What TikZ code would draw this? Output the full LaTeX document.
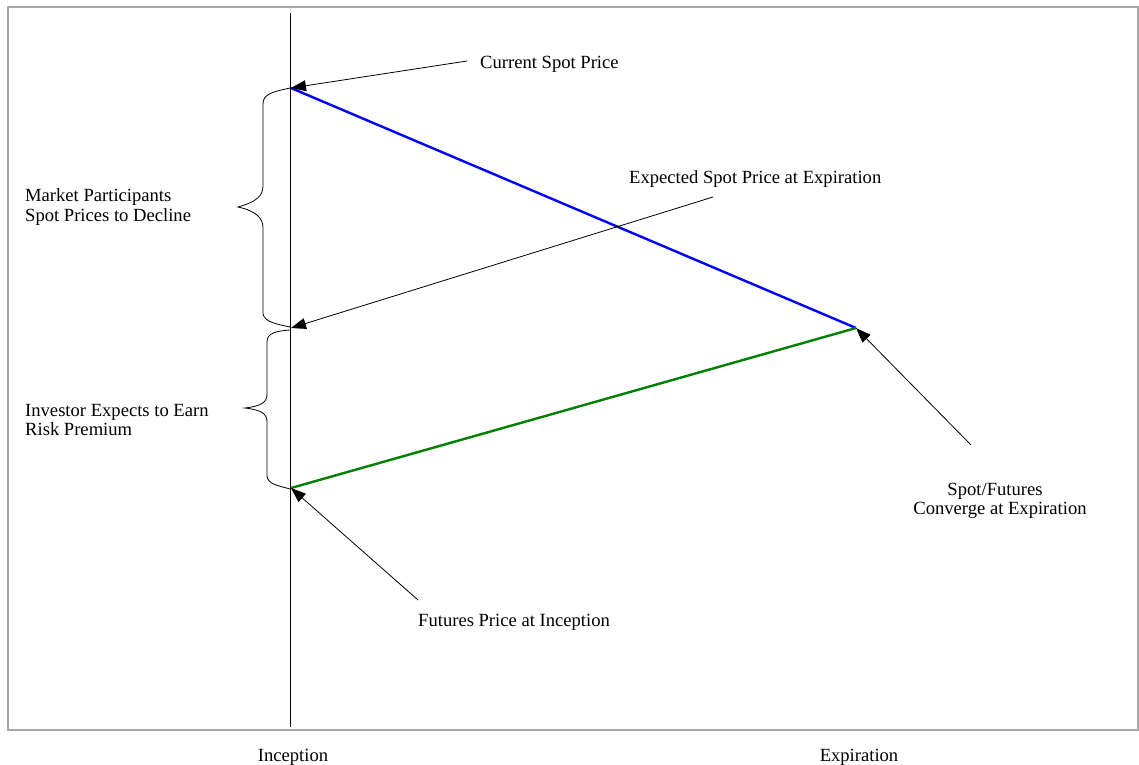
\documentclass[tikz,border=0pt]{standalone}
\usepackage{fontspec}
\setmainfont{Liberation Serif}
\usetikzlibrary{arrows.meta}
\begin{document}
\begin{tikzpicture}[x=1pt,y=-1pt,
  lbl/.style={inner sep=0pt,font=\fontsize{18.6}{20}\selectfont},
  ptr/.style={draw=black,line width=0.8pt,-{Triangle[length=15pt,width=11pt]}},
  brc/.style={draw=black,line width=0.8pt},
  frame/.style={draw=black!35,line width=1.5pt}]
\useasboundingbox (0,0) rectangle (1139,764);
\draw[frame] (8,7) rectangle (1138,730);
% time axis
\coordinate (axtop) at (290,13);
\coordinate (axbot) at (290,727);
\draw[line width=0.9pt] (axtop) -- (axbot);
% key points
\coordinate (cs) at (291,88);
\coordinate (es) at (291,328);
\coordinate (fp) at (291,488);
\coordinate (cv) at (856,328);
\draw[blue,line width=2.4pt] (cs) -- (cv);
\draw[green!50!black,line width=2.4pt] (fp) -- (cv);
% braces
\draw[brc] (290,88) .. controls (272,92) and (263,94) .. (263,104) -- (263,186)
  .. controls (263,196) and (256,202) .. (238,207)
  .. controls (256,211) and (263,218) .. (263,228) -- (263,314)
  .. controls (265,322) and (276,324) .. (290,327);
\draw[brc] (290,330) .. controls (276,331) and (267,333) .. (267,342) -- (267,394)
  .. controls (267,402) and (262,406) .. (245,408)
  .. controls (262,410) and (267,414) .. (267,422) -- (267,476)
  .. controls (268,484) and (276,485) .. (290,489);
% labels
\node[lbl,anchor=base west] (lcs) at (480,68) {Current Spot Price};
\node[lbl,anchor=base west] (les) at (629,183) {Expected Spot Price at Expiration};
\node[lbl,anchor=base west] (lmp1) at (25,201) {Market Participants};
\node[lbl,anchor=base west] (lmp2) at (25,221) {Spot Prices to Decline};
\node[lbl,anchor=base west] (lie1) at (25,416) {Investor Expects to Earn};
\node[lbl,anchor=base west] (lie2) at (25,435) {Risk Premium};
\node[lbl,anchor=base] (lcv1) at (995,495) {Spot/Futures};
\node[lbl,anchor=base] (lcv2) at (1000,514) {Converge at Expiration};
\node[lbl,anchor=base west] (lfp) at (418,626) {Futures Price at Inception};
\node[lbl,anchor=base] (linc) at (293,761) {Inception};
\node[lbl,anchor=base] (lexp) at (859,761) {Expiration};
% pointer start points
\coordinate (scs) at (467,61);
\coordinate (ses) at (713,197);
\coordinate (scv) at (971,445);
\coordinate (sfp) at (418,600);
\draw[ptr] (scs) -- (cs);
\draw[ptr] (ses) -- (es);
\draw[ptr] (scv) -- (cv);
\draw[ptr] (sfp) -- (fp);
\end{tikzpicture}
\end{document}
